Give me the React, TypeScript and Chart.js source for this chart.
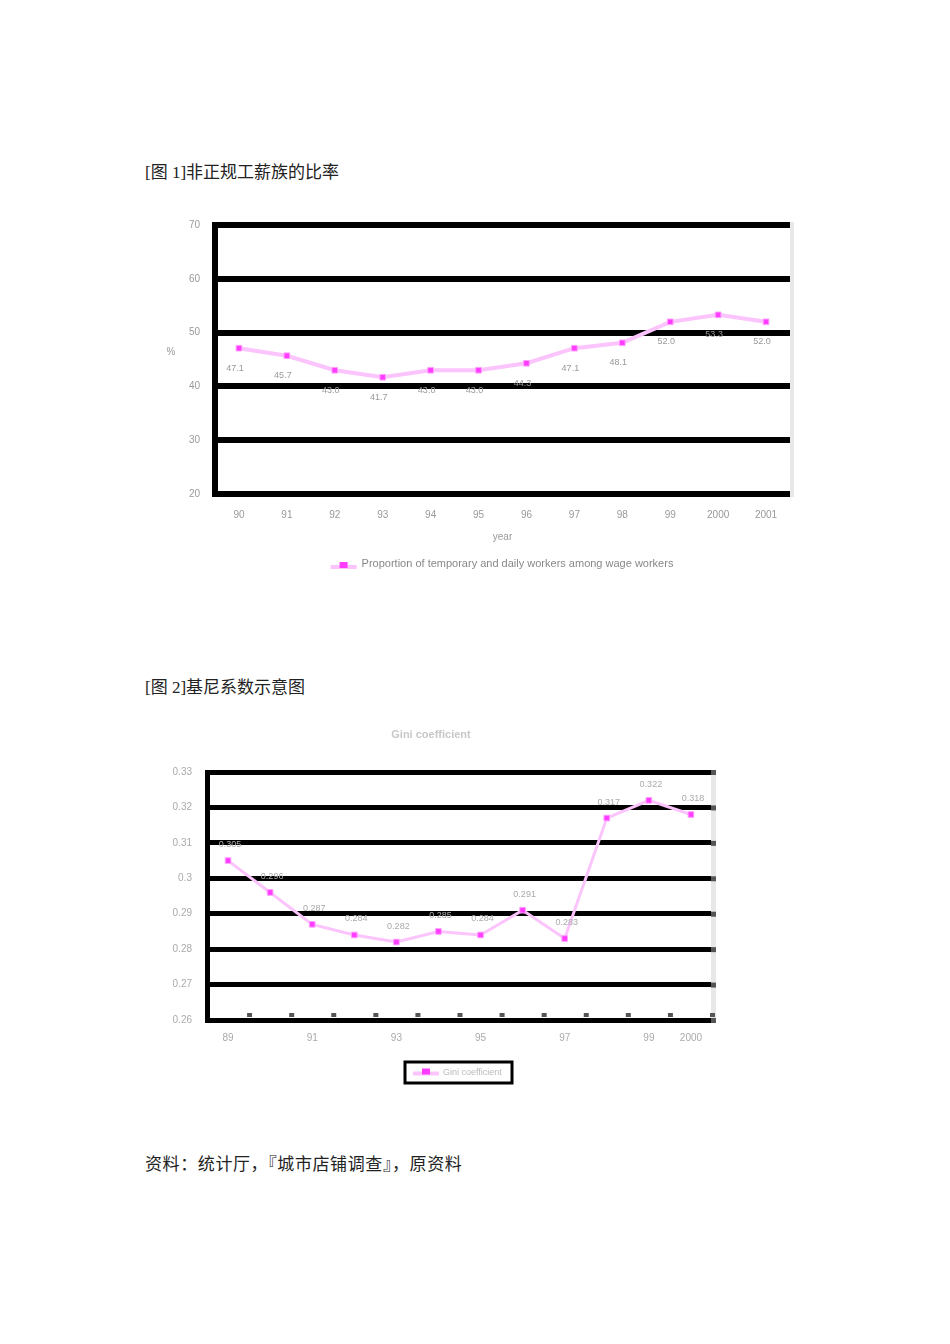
import React, { useEffect, useRef } from "react";
import { Chart, registerables } from "chart.js";
Chart.register(...registerables);

// ---------- Figure 1 data ----------
const years1 = ["90", "91", "92", "93", "94", "95", "96", "97", "98", "99", "2000", "2001"];
const ratio1 = [47.1, 45.7, 43.0, 41.7, 43.0, 43.0, 44.3, 47.1, 48.1, 52.0, 53.3, 52.0];
const yMin1 = 20;
const yMax1 = 70;
const yStep1 = 10;
const legend1 = "Proportion of temporary and daily workers among wage workers";
const yTitle1 = "%";
const xTitle1 = "year";

// ---------- Figure 2 data ----------
const years2 = ["89", "90", "91", "92", "93", "94", "95", "96", "97", "98", "99", "2000"];
const gini2 = [0.305, 0.296, 0.287, 0.284, 0.282, 0.285, 0.284, 0.291, 0.283, 0.317, 0.322, 0.318];
const yMin2 = 0.26;
const yMax2 = 0.33;
const yStep2 = 0.01;
const series2 = "Gini coefficient";

const FONT = '"Liberation Sans", Arial, sans-serif';
const LINE_PINK = "#fcc4fc";
const MARKER = "#ff3cff";
const MARKER_EDGE = "#ffa0ff";

function labelPlugin(id: string, dx: number, dy: number, digits: number, color: string) {
  return {
    id,
    afterDatasetsDraw(chart: any) {
      const ctx = chart.ctx;
      const meta = chart.getDatasetMeta(0);
      const data = chart.data.datasets[0].data;
      ctx.save();
      ctx.fillStyle = color;
      ctx.font = `9px ${FONT}`;
      ctx.textAlign = "center";
      ctx.textBaseline = "middle";
      meta.data.forEach((p: any, i: number) => {
        ctx.fillText(Number(data[i]).toFixed(digits), p.x + dx, p.y + dy);
      });
      ctx.restore();
    },
  };
}

function drawLegendMark(ctx: any, x: number, y: number) {
  ctx.save();
  ctx.strokeStyle = LINE_PINK;
  ctx.lineWidth = 4;
  ctx.beginPath();
  ctx.moveTo(x - 13, y + 2);
  ctx.lineTo(x + 13, y + 2);
  ctx.stroke();
  ctx.fillStyle = MARKER;
  ctx.fillRect(x - 4, y - 3, 8, 6);
  ctx.restore();
}

const decor1 = {
  id: "decor1",
  afterDraw(chart: any) {
    const { ctx, chartArea } = chart;
    const { left, right, top, bottom } = chartArea;
    ctx.save();
    // light right edge
    ctx.fillStyle = "#e8e8e8";
    ctx.fillRect(right, top - 3, 4, bottom - top + 6);
    // axis titles
    ctx.fillStyle = "#999";
    ctx.font = `10px ${FONT}`;
    ctx.textAlign = "center";
    ctx.textBaseline = "middle";
    ctx.fillText(yTitle1, left - 44, top + 127);
    ctx.fillText(xTitle1, (left + right) / 2, bottom + 43);
    // legend
    ctx.font = `11px ${FONT}`;
    const tw = ctx.measureText(legend1).width;
    const total = 30 + tw;
    const sx = (left + right) / 2 - total / 2;
    const ly = bottom + 71;
    drawLegendMark(ctx, sx + 12, ly);
    ctx.fillStyle = "#888";
    ctx.textAlign = "left";
    ctx.fillText(legend1, sx + 30, ly - 1);
    ctx.restore();
  },
};

const decor2 = {
  id: "decor2",
  afterDraw(chart: any) {
    const { ctx, chartArea, scales } = chart;
    const { left, right, top, bottom } = chartArea;
    ctx.save();
    // title
    ctx.fillStyle = "#c8c8c8";
    ctx.font = `bold 11px ${FONT}`;
    ctx.textAlign = "center";
    ctx.textBaseline = "middle";
    ctx.fillText(series2, chart.width / 2 - 4, 15);
    // right edge
    ctx.fillStyle = "#e8e8e8";
    ctx.fillRect(right - 1, top - 2, 5, bottom - top + 4);
    ctx.fillStyle = "#555";
    scales.y.ticks.forEach((t: any) => {
      const py = scales.y.getPixelForValue(t.value);
      ctx.fillRect(right - 1, py - 2, 5, 5);
    });
    // inner tick marks on the category axis
    const n = chart.data.labels.length;
    for (let i = 1; i <= n; i++) {
      const px = left + (i * (right - left)) / n;
      ctx.fillRect(px - 2, bottom - 7, 5, 4);
    }
    // legend box
    const cx = (left + right) / 2 - 1;
    const bw = 107;
    const bh = 21;
    const bx = cx - bw / 2;
    const by = bottom + 42;
    ctx.strokeStyle = "#000";
    ctx.lineWidth = 3;
    ctx.strokeRect(bx, by, bw, bh);
    drawLegendMark(ctx, bx + 21, by + bh / 2 - 1);
    ctx.fillStyle = "#bbb";
    ctx.font = `9px ${FONT}`;
    ctx.textAlign = "left";
    ctx.fillText(series2, bx + 38, by + bh / 2);
    ctx.restore();
  },
};

function Figure1() {
  const ref = useRef<HTMLCanvasElement | null>(null);
  useEffect(() => {
    if (!ref.current) return;
    const chart = new Chart(ref.current, {
      type: "line",
      data: {
        labels: years1,
        datasets: [
          {
            label: legend1,
            data: ratio1,
            borderColor: LINE_PINK,
            borderWidth: 4,
            tension: 0,
            pointStyle: "rect",
            pointRadius: 4,
            pointBackgroundColor: MARKER,
            pointBorderColor: MARKER_EDGE,
            pointBorderWidth: 1,
          },
        ],
      },
      options: {
        animation: false,
        responsive: false,
        devicePixelRatio: 1,
        layout: { padding: { top: 25, right: 10, bottom: 0, left: 0 } },
        plugins: { legend: { display: false }, tooltip: { enabled: false } },
        scales: {
          x: {
            type: "category",
            offset: true,
            grid: { display: false, drawTicks: false },
            border: { display: false },
            ticks: { color: "#999", font: { size: 10, family: FONT }, padding: 15, autoSkip: false, maxRotation: 0 },
            afterFit: (s: any) => {
              s.height = 96;
            },
          },
          y: {
            min: yMin1,
            max: yMax1,
            ticks: { stepSize: yStep1, color: "#999", font: { size: 10, family: FONT }, padding: 15 },
            grid: { color: "#000", lineWidth: 6, drawTicks: false },
            border: { display: true, color: "#000", width: 6 },
            afterFit: (s: any) => {
              s.width = 65;
            },
          },
        },
      } as any,
      plugins: [labelPlugin("labels1", -4, 20, 1, "#999"), decor1],
    });
    return () => chart.destroy();
  }, []);
  return (
    <canvas
      ref={ref}
      width={650}
      height={390}
      style={{ position: "absolute", left: 150, top: 200, width: 650, height: 390 }}
    />
  );
}

function Figure2() {
  const ref = useRef<HTMLCanvasElement | null>(null);
  useEffect(() => {
    if (!ref.current) return;
    const chart = new Chart(ref.current, {
      type: "line",
      data: {
        labels: years2,
        datasets: [
          {
            label: series2,
            data: gini2,
            borderColor: LINE_PINK,
            borderWidth: 3,
            tension: 0,
            pointStyle: "rect",
            pointRadius: 4,
            pointBackgroundColor: MARKER,
            pointBorderColor: MARKER_EDGE,
            pointBorderWidth: 1,
          },
        ],
      },
      options: {
        animation: false,
        responsive: false,
        devicePixelRatio: 1,
        layout: { padding: { top: 52, right: 8, bottom: 0, left: 0 } },
        plugins: { legend: { display: false }, tooltip: { enabled: false } },
        scales: {
          x: {
            type: "category",
            offset: true,
            grid: { display: false, drawTicks: false },
            border: { display: false },
            ticks: {
              color: "#aaa",
              font: { size: 10, family: FONT },
              padding: 12,
              autoSkip: false,
              maxRotation: 0,
              callback: (_v: any, i: number) => (i % 2 === 0 || i === years2.length - 1 ? years2[i] : ""),
            },
            afterFit: (s: any) => {
              s.height = 80;
            },
          },
          y: {
            min: yMin2,
            max: yMax2,
            ticks: {
              stepSize: yStep2,
              color: "#aaa",
              font: { size: 10, family: FONT },
              padding: 15,
              callback: (v: any) => String(Number(Number(v).toFixed(2))),
            },
            grid: { color: "#000", lineWidth: 5, drawTicks: false },
            border: { display: true, color: "#000", width: 5 },
            afterFit: (s: any) => {
              s.width = 57;
            },
          },
        },
      } as any,
      plugins: [labelPlugin("labels2", 2, -16, 3, "#aaa"), decor2],
    });
    return () => chart.destroy();
  }, []);
  return (
    <canvas
      ref={ref}
      width={570}
      height={380}
      style={{ position: "absolute", left: 150, top: 720, width: 570, height: 380 }}
    />
  );
}

const textStyle: React.CSSProperties = {
  position: "absolute",
  left: 145,
  fontSize: 17,
  lineHeight: "18px",
  whiteSpace: "nowrap",
  color: "#222",
  fontFamily: '"Liberation Serif", "Noto Sans CJK SC", serif',
};

export default function App() {
  return (
    <div style={{ position: "absolute", left: 0, top: 0, width: 950, height: 1344, background: "#fff" }}>
      <div style={{ ...textStyle, top: 164 }}>[图 1]非正规工薪族的比率</div>
      <Figure1 />
      <div style={{ ...textStyle, top: 679 }}>[图 2]基尼系数示意图</div>
      <Figure2 />
      <div style={{ ...textStyle, top: 1156, letterSpacing: "0.6px" }}>资料：统计厅，『城市店铺调查』，原资料</div>
    </div>
  );
}
